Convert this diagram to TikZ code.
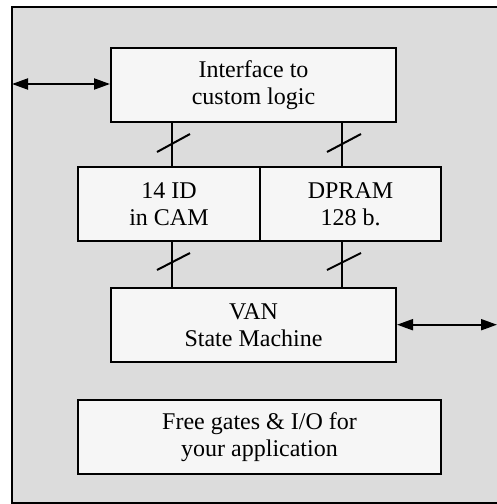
\documentclass[tikz,border=0pt]{standalone}
\usepackage{fontspec}
\setmainfont{Liberation Serif}
\usetikzlibrary{arrows.meta}
\definecolor{bgray}{HTML}{DCDCDC}
\definecolor{boxfill}{HTML}{F6F6F6}
\begin{document}
\begin{tikzpicture}[x=1pt,y=-1pt,
  blk/.style={draw=black,fill=boxfill,line width=2pt,inner sep=0pt,
    font=\fontsize{24}{27}\selectfont,align=center},
  bus/.style={line width=2pt},
  slash/.style={line width=2pt},
  dbl/.style={line width=2pt,{Triangle[length=16pt,width=11pt]}-{Triangle[length=16pt,width=11pt]}}]
\useasboundingbox (0,0) rectangle (497,504);
\begin{scope}
\clip (0,0) rectangle (497,504);
\draw[fill=bgray,line width=2pt] (11.5,7) rectangle (510,503);
\end{scope}
\node[blk,minimum width=285pt,minimum height=74.5pt] (ifc) at (253.5,85.2) {Interface to\\custom logic};
\node[blk,minimum width=182pt,minimum height=74.5pt] (cam) at (169,204.2) {14 ID\\in CAM};
\node[blk,minimum width=181pt,minimum height=74.5pt] (dpram) at (350.5,204.2) {DPRAM\\128 b.};
\node[blk,minimum width=285pt,minimum height=74.5pt] (van) at (253.5,325) {VAN\\State Machine};
\node[blk,minimum width=363pt,minimum height=74pt] (free) at (259.5,437) {Free gates \& I/O for\\your application};
\coordinate (lft) at (12,84);
\coordinate (rgt) at (497,324.7);
\draw[dbl] (lft) -- (ifc.west |- lft);
\draw[dbl] (van.east |- rgt) -- (rgt);
% buses
\draw[bus] (ifc.south -| 172,0) -- (cam.north -| 172,0);
\draw[bus] (ifc.south -| 342.3,0) -- (dpram.north -| 342.3,0);
\draw[bus] (cam.south -| 172,0) -- (van.north -| 172,0);
\draw[bus] (dpram.south -| 342.3,0) -- (van.north -| 342.3,0);
% slashes
\draw[slash] (157,152) -- (190,134);
\draw[slash] (327,152) -- (361,134);
\draw[slash] (157,270) -- (190,253);
\draw[slash] (327,270) -- (361,253);
\end{tikzpicture}
\end{document}
